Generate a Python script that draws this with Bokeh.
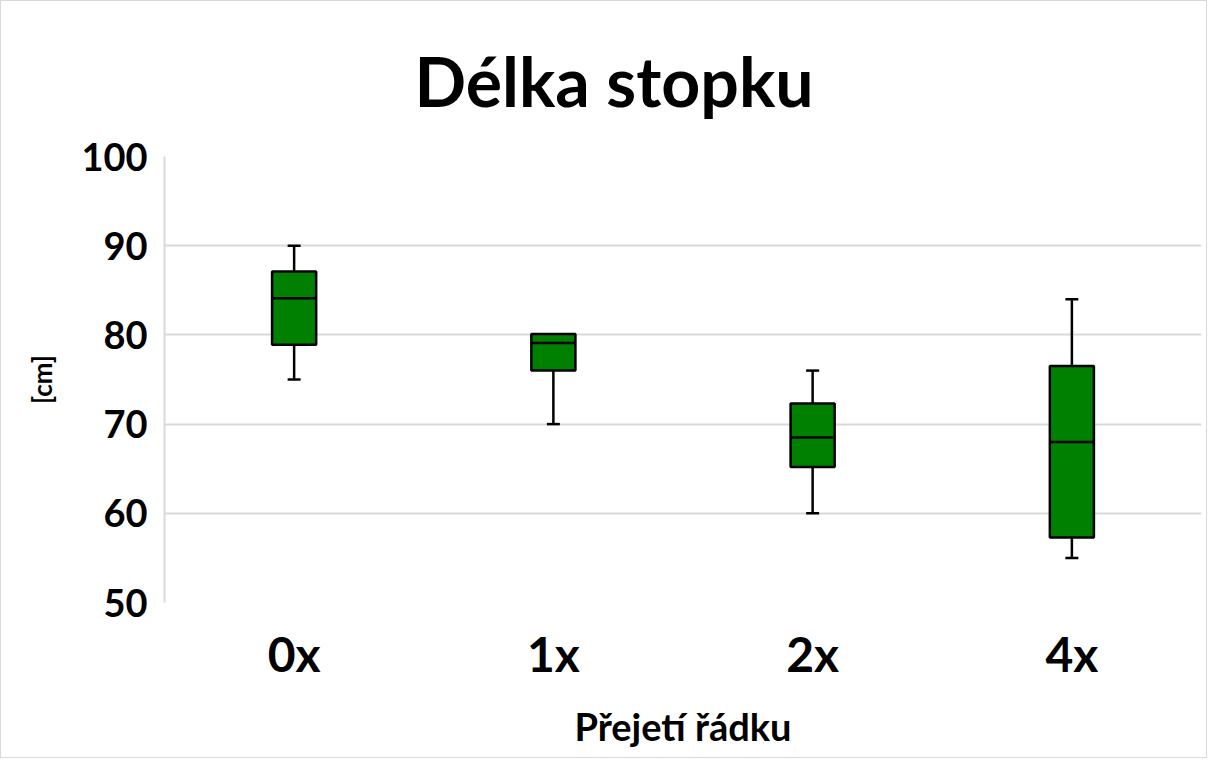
from bokeh.plotting import figure
from bokeh.models import FixedTicker, ColumnDataSource
from bokeh.transform import dodge
from bokeh.embed import file_html
from bokeh.resources import INLINE

categories = ["0x", "1x", "2x", "4x"]
lower = [75, 70, 60, 55]
q1 = [78.9, 76.0, 65.2, 57.3]
median = [84.1, 79.1, 68.5, 68.0]
q3 = [87.1, 80.1, 72.3, 76.5]
upper = [90, 80, 76, 84]

FONT = "Lato"
BOX_W = 0.17
CAP_W = 0.05

src = ColumnDataSource(dict(cat=categories, lower=lower, q1=q1, median=median, q3=q3, upper=upper))

p = figure(x_range=categories, y_range=(50, 100), width=1205, height=756,
           output_backend="svg", toolbar_location=None,
           min_border_left=163, min_border_right=5, min_border_top=155, min_border_bottom=155)
p.frame_width = 1037
p.frame_height = 446

p.title.text = "Délka stopku"
p.title.align = "left"
p.title.offset = 250
p.title.text_font = FONT
p.title.text_font_style = "bold"
p.title.text_font_size = "68px"
p.title.text_color = "black"
p.title.text_line_height = 0.8
p.title.standoff = 72

p.outline_line_color = None
p.background_fill_color = "white"
p.border_fill_color = "white"
p.styles = {"border": "1px solid #d9d9d9"}

p.xgrid.grid_line_color = None
p.ygrid.grid_line_color = "#d9d9d9"
p.ygrid.grid_line_width = 2

p.yaxis.ticker = FixedTicker(ticks=[50, 60, 70, 80, 90, 100])
p.yaxis.axis_line_color = "#d9d9d9"
p.yaxis.axis_line_width = 2
p.yaxis.major_tick_line_color = None
p.yaxis.minor_tick_line_color = None
p.yaxis.major_label_text_font = FONT
p.yaxis.major_label_text_font_style = "bold"
p.yaxis.major_label_text_font_size = "38px"
p.yaxis.major_label_text_color = "black"
p.yaxis.major_label_standoff = 11
p.yaxis.axis_label = "[cm]"
p.yaxis.axis_label_text_font = FONT
p.yaxis.axis_label_text_font_style = "bold"
p.yaxis.axis_label_text_font_size = "26px"
p.yaxis.axis_label_text_color = "black"
p.yaxis.axis_label_standoff = 20

p.xaxis.axis_line_color = None
p.xaxis.major_tick_line_color = None
p.xaxis.minor_tick_line_color = None
p.xaxis.major_label_text_font = FONT
p.xaxis.major_label_text_font_style = "bold"
p.xaxis.major_label_text_font_size = "48px"
p.xaxis.major_label_text_color = "black"
p.xaxis.major_label_standoff = 16
p.xaxis.axis_label = "Přejetí řádku"
p.xaxis.axis_label_text_font = FONT
p.xaxis.axis_label_text_font_style = "bold"
p.xaxis.axis_label_text_font_size = "38px"
p.xaxis.axis_label_text_color = "black"
p.xaxis.axis_label_standoff = 18

lw = 2.5
# whiskers
p.segment(x0="cat", x1="cat", y0="q3", y1="upper", source=src, line_color="black", line_width=lw)
p.segment(x0="cat", x1="cat", y0="lower", y1="q1", source=src, line_color="black", line_width=lw)
# caps
p.segment(x0=dodge("cat", -CAP_W / 2, range=p.x_range), x1=dodge("cat", CAP_W / 2, range=p.x_range),
          y0="upper", y1="upper", source=src, line_color="black", line_width=lw)
p.segment(x0=dodge("cat", -CAP_W / 2, range=p.x_range), x1=dodge("cat", CAP_W / 2, range=p.x_range),
          y0="lower", y1="lower", source=src, line_color="black", line_width=lw)
# boxes
p.vbar(x="cat", width=BOX_W, bottom="q1", top="q3", source=src,
       fill_color="#008000", line_color="black", line_width=lw)
# median
p.segment(x0=dodge("cat", -BOX_W / 2, range=p.x_range), x1=dodge("cat", BOX_W / 2, range=p.x_range),
          y0="median", y1="median", source=src, line_color="black", line_width=lw)

open("out.html", "w").write(file_html(p, INLINE))
